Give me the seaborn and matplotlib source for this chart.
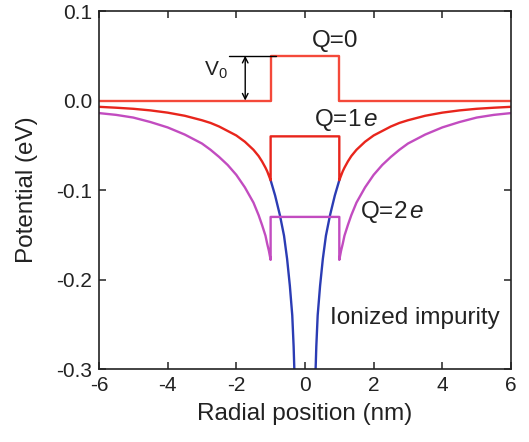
import matplotlib
matplotlib.use("Agg")
import matplotlib.pyplot as plt
import numpy as np
import pandas as pd
import seaborn as sns

# Radial grid outside the quantum dot (nm) and the potentials read there (eV)
r_outer = [1.0, 1.05, 1.1, 1.15, 1.25, 1.35, 1.5, 1.75, 2.0, 2.25, 2.5, 2.75,
           3.0, 3.5, 4.0, 4.5, 5.0, 5.5, 6.0]
v_q1_outer = [-0.089, -0.084, -0.079, -0.075, -0.068, -0.062, -0.055, -0.046,
              -0.039, -0.034, -0.029, -0.025, -0.022, -0.017, -0.0135, -0.011,
              -0.0092, -0.0080, -0.0070]
v_q2_outer = [-0.178, -0.168, -0.160, -0.151, -0.139, -0.128, -0.114, -0.097,
              -0.083, -0.072, -0.063, -0.055, -0.048, -0.038, -0.030, -0.024,
              -0.019, -0.016, -0.014]

# Bare ionized-impurity potential inside the dot
r_inner = [0.31, 0.33, 0.37, 0.44, 0.52, 0.61, 0.73, 0.87, 1.0]
v_impurity_inner = [-0.300, -0.275, -0.240, -0.207, -0.177, -0.151, -0.128, -0.106, -0.089]

# Dot radius and flat potential levels inside the dot (eV)
dot_radius = 1.0
v0_barrier = 0.05
v_q1_inside = -0.04
v_q2_inside = -0.13
x_limits = (-6, 6)


def well_profile(r_out, v_out, v_in):
    """Symmetric profile: outer curve on both sides and a flat level inside."""
    xs = [-r for r in r_out[::-1]] + [-dot_radius, dot_radius] + list(r_out)
    ys = list(v_out[::-1]) + [v_in, v_in] + list(v_out)
    return pd.DataFrame({"r": xs, "V": ys})


q0 = pd.DataFrame({
    "r": [x_limits[0], -dot_radius, -dot_radius, dot_radius, dot_radius, x_limits[1]],
    "V": [0.0, 0.0, v0_barrier, v0_barrier, 0.0, 0.0],
})
q1 = well_profile(r_outer, v_q1_outer, v_q1_inside)
q2 = well_profile(r_outer, v_q2_outer, v_q2_inside)
imp_left = pd.DataFrame({"r": [-r for r in r_inner], "V": v_impurity_inner})
imp_right = pd.DataFrame({"r": r_inner, "V": v_impurity_inner})

sns.set_theme(style="ticks")
plt.rcParams["font.family"] = ["Liberation Sans", "DejaVu Sans"]
plt.rcParams["mathtext.fontset"] = "custom"
plt.rcParams["mathtext.rm"] = "Liberation Sans"
plt.rcParams["mathtext.it"] = "Liberation Sans:italic"

fig = plt.figure(figsize=(5.29, 4.42), dpi=100)
ax = fig.add_axes([0.187, 0.165, 0.779, 0.810])

blue = "#2b3cb4"
magenta = "#c24cc0"
red = "#e8251c"
red_light = "#f4493a"
lw = 1.7

for df in (imp_left, imp_right):
    sns.lineplot(data=df, x="r", y="V", sort=False, estimator=None, color=blue, lw=lw, ax=ax)
sns.lineplot(data=q2, x="r", y="V", sort=False, estimator=None, color=magenta, lw=lw, ax=ax)
sns.lineplot(data=q1, x="r", y="V", sort=False, estimator=None, color=red, lw=lw, ax=ax)
sns.lineplot(data=q0, x="r", y="V", sort=False, estimator=None, color=red_light, lw=lw, ax=ax)

ax.set_xlim(*x_limits)
ax.set_ylim(-0.3, 0.1)
ax.set_xticks([-6, -4, -2, 0, 2, 4, 6])
ax.set_yticks([-0.3, -0.2, -0.1, 0.0, 0.1])
ax.set_yticklabels(["-0.3", "-0.2", "-0.1", "0.0", "0.1"])
ax.set_xticklabels(["-6", "-4", "-2", "0", "2", "4", "6"])
ax.tick_params(direction="in", length=5, width=1.1, top=True, right=True,
               labelsize=15, colors="#222222", pad=5)
ax.tick_params(labeltop=False, labelright=False)
for s in ax.spines.values():
    s.set_linewidth(1.2)
    s.set_color("#222222")

ax.set_xlabel("Radial position (nm)", fontsize=17.5, color="#222222", labelpad=6)
ax.set_ylabel("Potential (eV)", fontsize=17.5, color="#222222", labelpad=13)

# Barrier height marker
ax.plot([-2.22, -0.85], [v0_barrier, v0_barrier], color="black", lw=1.0)
ax.annotate("", xy=(-1.74, v0_barrier), xytext=(-1.74, 0.0),
            arrowprops=dict(arrowstyle="<->", color="black", lw=1.0,
                            shrinkA=0, shrinkB=0, mutation_scale=10))
ax.text(-2.95, 0.034, r"V$_0$", fontsize=15, ha="left", va="center", color="#222222")

ax.text(0.87, 0.067, "Q=0", fontsize=17.5, ha="center", va="center", color="#222222")
ax.text(0.26, -0.022, r"Q=1$\,\mathit{e}$", fontsize=17.5, ha="left", va="center", color="#222222")
ax.text(1.6, -0.125, r"Q=2$\,\mathit{e}$", fontsize=17.5, ha="left", va="center", color="#222222")
ax.text(0.73, -0.243, "Ionized impurity", fontsize=17.5, ha="left", va="center", color="#222222")

fig.savefig("out.png", dpi=100)
